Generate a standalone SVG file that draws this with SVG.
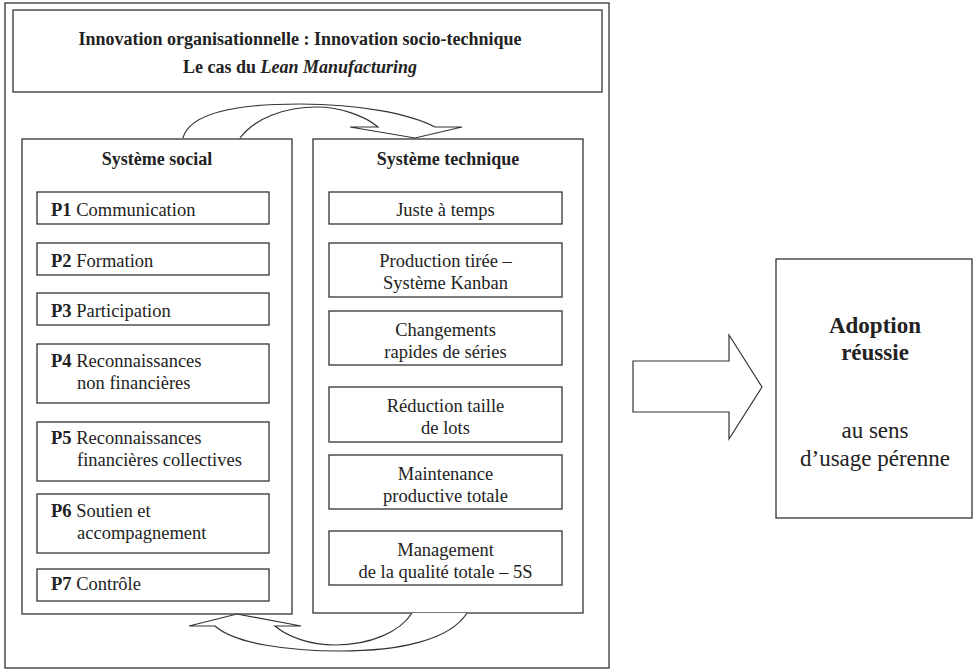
<svg xmlns="http://www.w3.org/2000/svg" width="974" height="672" viewBox="0 0 974 672">
<style>
.box{fill:#fff;stroke:#333;stroke-width:1.3}
.frame{fill:none;stroke:#333;stroke-width:1.3}
.t{font-family:"Liberation Serif","Times New Roman",serif;font-size:18.5px;fill:#222}
.tc{text-anchor:middle}
.b{font-weight:bold}
.h{font-family:"Liberation Serif","Times New Roman",serif;font-size:18px;font-weight:bold;fill:#222;text-anchor:middle}
.big{font-family:"Liberation Serif","Times New Roman",serif;font-size:23px;fill:#222;text-anchor:middle}
.conn{fill:#fff;stroke:#333;stroke-width:1.2;stroke-linejoin:miter}
</style>
<rect x="0" y="0" width="974" height="672" fill="#fff"/>
<g id="frame">
<rect class="frame" x="5" y="3" width="604" height="665"/>
</g>
<g id="title">
<rect class="box" x="13" y="10" width="589" height="82"/>
<text class="h" x="300" y="45">Innovation organisationnelle : Innovation socio-technique</text>
<text class="h" x="300" y="73">Le cas du <tspan font-style="italic">Lean Manufacturing</tspan></text>
</g>
<g id="social">
<rect class="box" x="22" y="139" width="270" height="475"/>
<text class="h" x="157" y="165">Système social</text>
</g>
<g id="technique">
<rect class="box" x="313" y="139" width="270" height="474"/>
<text class="h" x="448" y="165">Système technique</text>
</g>
<g id="p1"><rect class="box" x="37" y="192" width="232" height="32"/><text class="t" x="51" y="216"><tspan class="b">P1</tspan> Communication</text></g>
<g id="p2"><rect class="box" x="37" y="243" width="232" height="32"/><text class="t" x="51" y="267"><tspan class="b">P2</tspan> Formation</text></g>
<g id="p3"><rect class="box" x="37" y="293" width="232" height="32"/><text class="t" x="51" y="317"><tspan class="b">P3</tspan> Participation</text></g>
<g id="p4"><rect class="box" x="37" y="344" width="232" height="59"/><text class="t" x="51" y="367"><tspan class="b">P4</tspan> Reconnaissances<tspan x="77" y="389">non financières</tspan></text></g>
<g id="p5"><rect class="box" x="37" y="422" width="232" height="59"/><text class="t" x="51" y="444"><tspan class="b">P5</tspan> Reconnaissances<tspan x="77" y="466">financières collectives</tspan></text></g>
<g id="p6"><rect class="box" x="37" y="494" width="232" height="59"/><text class="t" x="51" y="517"><tspan class="b">P6</tspan> Soutien et<tspan x="77" y="539">accompagnement</tspan></text></g>
<g id="p7"><rect class="box" x="37" y="569" width="232" height="32"/><text class="t" x="51" y="590"><tspan class="b">P7</tspan> Contrôle</text></g>
<g id="t1"><rect class="box" x="329" y="192" width="233" height="32"/><text class="t tc" x="445.5" y="216">Juste à temps</text></g>
<g id="t2"><rect class="box" x="329" y="243" width="233" height="54"/><text class="t tc" x="445.5" y="267">Production tirée –<tspan x="445.5" y="289">Système Kanban</tspan></text></g>
<g id="t3"><rect class="box" x="329" y="311" width="233" height="54"/><text class="t tc" x="445.5" y="336">Changements<tspan x="445.5" y="358">rapides de séries</tspan></text></g>
<g id="t4"><rect class="box" x="329" y="387" width="233" height="55"/><text class="t tc" x="445.5" y="412">Réduction taille<tspan x="445.5" y="434">de lots</tspan></text></g>
<g id="t5"><rect class="box" x="329" y="455" width="233" height="54"/><text class="t tc" x="445.5" y="480">Maintenance<tspan x="445.5" y="502">productive totale</tspan></text></g>
<g id="t6"><rect class="box" x="329" y="531" width="233" height="54"/><text class="t tc" x="445.5" y="556">Management<tspan x="445.5" y="578">de la qualité totale – 5S</tspan></text></g>
<g id="adoption">
<rect class="box" x="776" y="259" width="196" height="259"/>
<text class="big b" x="875" y="333">Adoption</text>
<text class="big b" x="875" y="360">réussie</text>
<text class="big" x="875" y="438">au sens</text>
<text class="big" x="875" y="466">d’usage pérenne</text>
</g>
<g id="connectors">
<path class="conn" d="M183,138 C190,112 240,104 300,104 C360,104 410,114 435,127 L462,127 L415,138 L350,127 L378,127 C365,116 340,107 317,107 C285,107 255,118 240,138"/>
<path class="conn" d="M412,613 C400,632 370,645 335,645 C310,645 288,637 275,626 L301,626 L237,614 L189,626 L215,626 C235,644 290,651 340,651 C400,651 450,640 467,613"/>
<path class="conn" d="M633,361 L729,361 L729,335 L762,387 L729,439 L729,412 L633,412 Z"/>
</g>
</svg>
